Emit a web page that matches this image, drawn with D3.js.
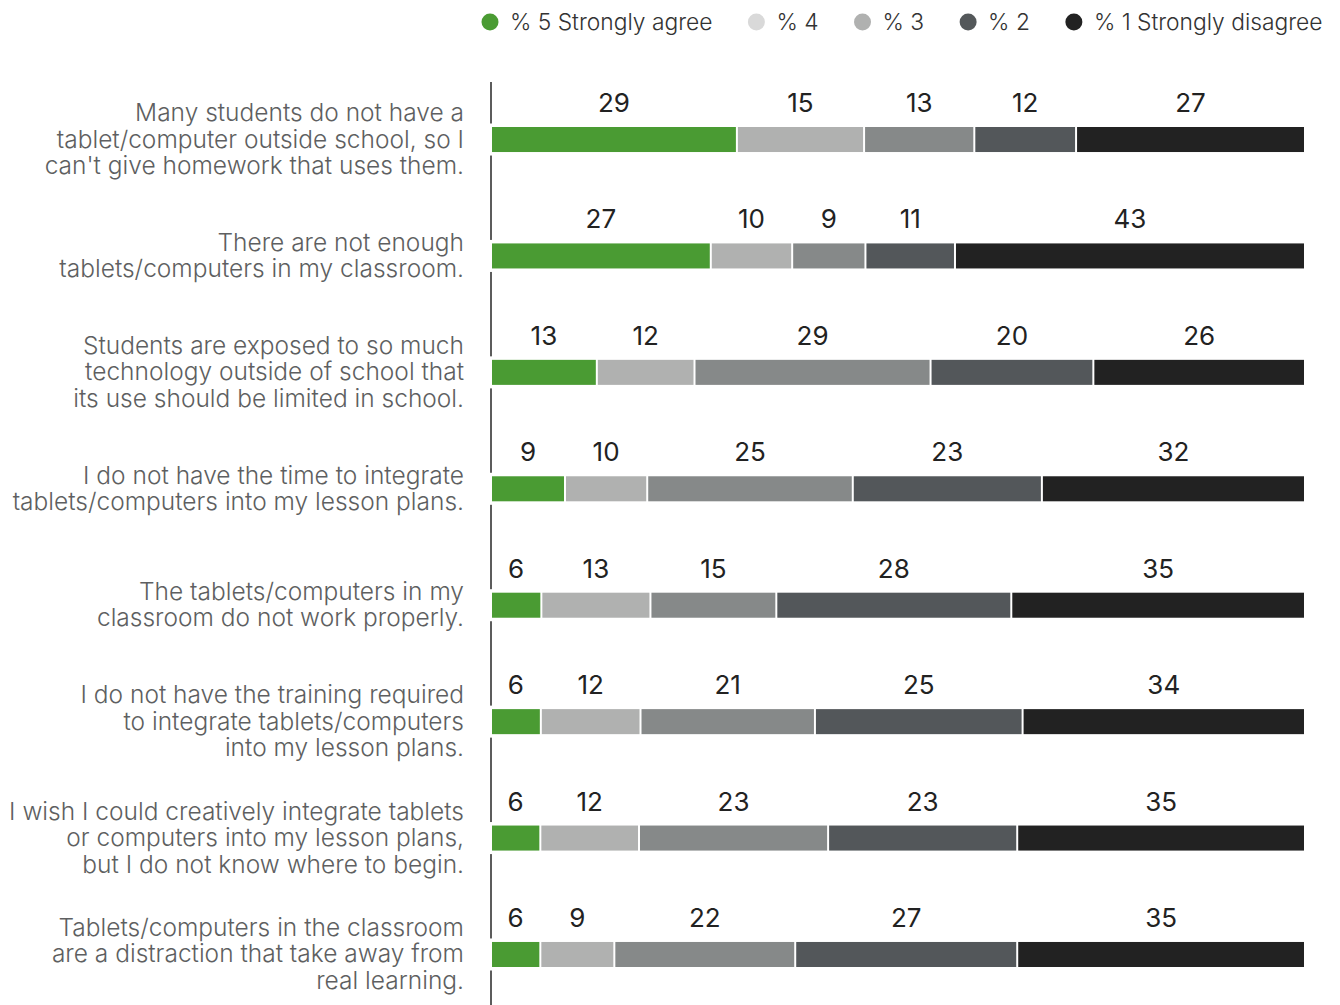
<!DOCTYPE html>
<html>
<head>
<meta charset="utf-8">
<script src="https://cdn.jsdelivr.net/npm/d3@7"></script>
<style>
  html, body { margin: 0; padding: 0; background: #fff; }
  svg { display: block; font-family: Inter, "Noto Sans", sans-serif; }
</style>
</head>
<body>
<svg id="chart" width="1340" height="1005"></svg>
<script>
// Survey statements (one bar per statement, label lines pre-broken)
const statements = [
  ["Many students do not have a", "tablet/computer outside school, so I", "can't give homework that uses them."],
  ["There are not enough", "tablets/computers in my classroom."],
  ["Students are exposed to so much", "technology outside of school that", "its use should be limited in school."],
  ["I do not have the time to integrate", "tablets/computers into my lesson plans."],
  ["The tablets/computers in my", "classroom do not work properly."],
  ["I do not have the training required", "to integrate tablets/computers", "into my lesson plans."],
  ["I wish I could creatively integrate tablets", "or computers into my lesson plans,", "but I do not know where to begin."],
  ["Tablets/computers in the classroom", "are a distraction that take away from", "real learning."]
];

// Response scale, from strongly agree to strongly disagree
const responses = ["% 5 Strongly agree", "% 4", "% 3", "% 2", "% 1 Strongly disagree"];

// Percentages per response level, one value per statement
const agree5    = [29, 27, 13,  9,  6,  6,  6,  6];
const agree4    = [15, 10, 12, 10, 13, 12, 12,  9];
const neutral3  = [13,  9, 29, 25, 15, 21, 23, 22];
const disagree2 = [12, 11, 20, 23, 28, 25, 23, 27];
const disagree1 = [27, 43, 26, 32, 35, 34, 35, 35];

const seriesValues = [agree5, agree4, neutral3, disagree2, disagree1];

const barColors    = ["#4a9b33", "#b0b1b0", "#868989", "#53575a", "#222222"];
const legendColors = ["#4a9b33", "#d9d9d9", "#b0b1b0", "#54585a", "#222222"];

const svg = d3.select("#chart");

// Build stacked rows: each statement normalised to its own total
const rows = statements.map((s, i) => {
  const vals = seriesValues.map(v => v[i]);
  const total = d3.sum(vals);
  let acc = 0;
  const segs = vals.map((v, k) => {
    const seg = { key: k, value: v, x0: acc / total * 100, x1: (acc + v) / total * 100 };
    acc += v;
    return seg;
  });
  return { index: i, lines: s, segs };
});

const x = d3.scaleLinear().domain([0, 100]).range([491, 1305]);
const y = d3.scaleBand()
  .domain(rows.map(r => r.index))
  .range([127, 967])
  .paddingInner(0.785)
  .paddingOuter(0);
const bh = y.bandwidth();

// Vertical baseline
svg.append("line")
  .attr("x1", 491).attr("x2", 491)
  .attr("y1", 82).attr("y2", 1005)
  .attr("stroke", "#5c5c5c")
  .attr("stroke-width", 2);

const row = svg.selectAll("g.row")
  .data(rows)
  .join("g")
  .attr("class", "row")
  .attr("transform", d => `translate(0,${y(d.index)})`);

// White knock-out behind each bar so the baseline breaks around it
row.append("rect")
  .attr("x", 488)
  .attr("y", -3.5)
  .attr("width", 820)
  .attr("height", bh + 7)
  .attr("fill", "#fff");

row.selectAll("rect.seg")
  .data(d => d.segs)
  .join("rect")
  .attr("class", "seg")
  .attr("x", d => x(d.x0) + 1)
  .attr("y", 0)
  .attr("width", d => Math.max(0, x(d.x1) - x(d.x0) - 2))
  .attr("height", bh)
  .attr("fill", d => barColors[d.key]);

// Value labels centred above each segment
row.selectAll("text.val")
  .data(d => d.segs)
  .join("text")
  .attr("class", "val")
  .attr("x", d => (x(d.x0) + x(d.x1)) / 2)
  .attr("y", -15)
  .attr("text-anchor", "middle")
  .attr("font-size", 26)
  .attr("font-weight", 400)
  .attr("fill", "#222")
  .text(d => d.value);

// Statement labels, right-aligned left of the axis
const lineH = 26.5;
row.append("text")
  .attr("class", "cat")
  .attr("text-anchor", "end")
  .attr("font-size", 24.5)
  .attr("font-weight", 300)
  .attr("fill", "#5e5f61")
  .selectAll("tspan")
  .data(d => d.lines.map((t, j) => ({ t, j, n: d.lines.length })))
  .join("tspan")
  .attr("x", 464)
  .attr("y", d => bh / 2 + 8 + (d.j - (d.n - 1) / 2) * lineH)
  .text(d => d.t);

// Legend along the top
const legend = svg.append("g").attr("class", "legend");
let lx = 490;
responses.forEach((r, k) => {
  const g = legend.append("g");
  g.append("circle")
    .attr("cx", lx).attr("cy", 22).attr("r", 8.5)
    .attr("fill", legendColors[k]);
  const t = g.append("text")
    .attr("x", lx + 20).attr("y", 30)
    .attr("font-size", 22.8)
    .attr("font-weight", 300)
    .attr("fill", "#333")
    .text(r);
  lx += 20 + t.node().getComputedTextLength() + 44;
});
</script>
</body>
</html>
